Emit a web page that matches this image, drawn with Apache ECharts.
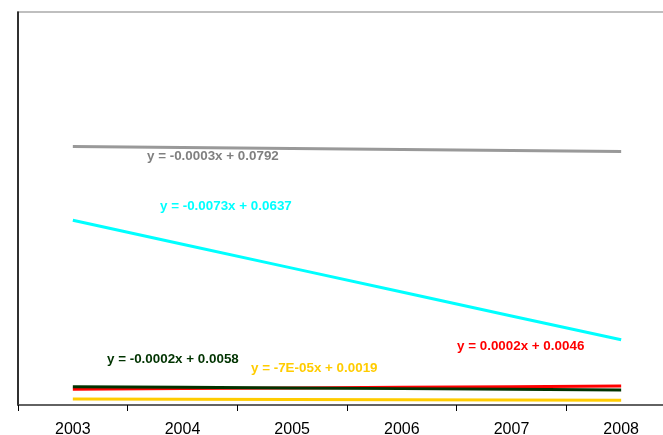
<!DOCTYPE html>
<html>
<head>
<meta charset="utf-8">
<script src="https://cdn.jsdelivr.net/npm/echarts@6/dist/echarts.min.js"></script>
<style>html,body{margin:0;padding:0;background:#fff;overflow:hidden;width:663px;height:435px;}#c{width:690px;height:435px;}</style>
</head>
<body>
<div id="c"></div>
<script>
const categories = ['2003', '2004', '2005', '2006', '2007', '2008'];
const grayValues = [0.0789, 0.0786, 0.0783, 0.0780, 0.0777, 0.0774];
const cyanValues = [0.0564, 0.0491, 0.0418, 0.0345, 0.0272, 0.0199];
const greenValues = [0.0056, 0.0054, 0.0052, 0.0050, 0.0048, 0.0046];
const redValues = [0.0048, 0.0050, 0.0052, 0.0054, 0.0056, 0.0058];
const yellowValues = [0.00183, 0.00176, 0.00169, 0.00162, 0.00155, 0.00148];
const labels = {
  gray: 'y = -0.0003x + 0.0792',
  cyan: 'y = -0.0073x + 0.0637',
  green: 'y = -0.0002x + 0.0058',
  red: 'y = 0.0002x + 0.0046',
  yellow: 'y = -7E-05x + 0.0019'
};

const chart = echarts.init(document.getElementById('c'));
const font = '"Liberation Sans", Arial, sans-serif';
function line(name, data, color, z) {
  return { name, type: 'line', data, symbol: 'none', z: z,
    lineStyle: { color, width: 3 }, itemStyle: { color }, animation: false };
}
function txt(t, left, top, color) {
  return { type: 'text', left, top, style: { text: t, fill: color, font: 'bold 13.4px ' + font } };
}
chart.setOption({
  animation: false,
  grid: { left: 18, top: 12, width: 658, height: 393, outerBoundsMode: 'none', containLabel: false, show: true, borderColor: '#aaaaaa', borderWidth: 1.5, backgroundColor: 'transparent' },
  xAxis: {
    type: 'category', data: categories, boundaryGap: true,
    axisLine: { show: true, lineStyle: { color: '#444', width: 1.5 } },
    axisTick: { show: true, length: 6, lineStyle: { color: '#000' } },
    axisLabel: { color: '#000', fontSize: 16, fontFamily: font, margin: 17 },
    splitLine: { show: false }
  },
  yAxis: {
    type: 'value', min: 0, max: 0.12,
    axisLine: { show: true, lineStyle: { color: '#000', width: 1.5 } },
    axisTick: { show: false }, axisLabel: { show: false }, splitLine: { show: false }
  },
  series: [
    line('gray', grayValues, '#999999', 2),
    line('cyan', cyanValues, '#00FFFF', 2),
    line('red', redValues, '#FF0000', 2),
    line('green', greenValues, '#003300', 3),
    line('yellow', yellowValues, '#FFCC00', 2)
  ],
  graphic: [
    txt(labels.gray, 147, 150, '#808080'),
    txt(labels.cyan, 160, 200, '#00FFFF'),
    txt(labels.green, 107, 353, '#003300'),
    txt(labels.yellow, 251, 362, '#FFCC00'),
    txt(labels.red, 457, 340, '#FF0000')
  ]
});
</script>
</body>
</html>
